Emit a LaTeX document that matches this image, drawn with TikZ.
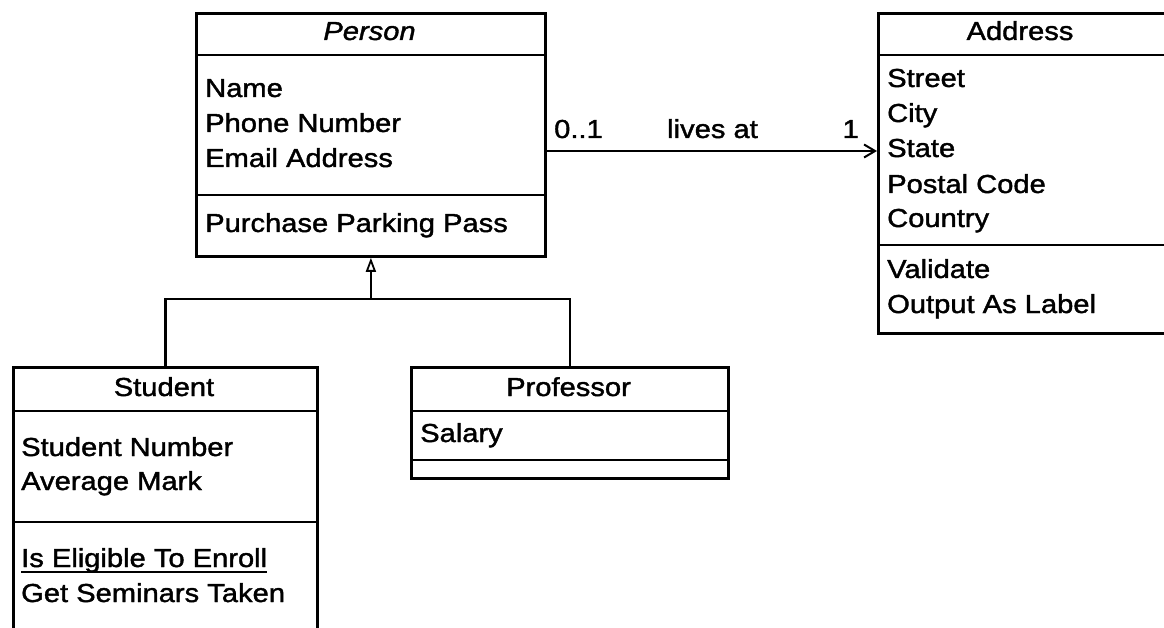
\documentclass[tikz,border=0pt]{standalone}
\usepackage{fontspec}
\setmainfont[FakeStretch=1.12,FakeBold=1.5]{Liberation Sans}
\usetikzlibrary{arrows.meta}
\begin{document}
\begin{tikzpicture}[x=1pt,y=-1pt,
  box/.style={draw=black,line width=2.8pt,anchor=north west,inner sep=0pt,minimum width=#1},
  sep/.style={line width=2.8pt},
  txt/.style={anchor=base west,inner sep=0pt,font=\fontsize{26}{35}\selectfont},
  ttl/.style={anchor=base,inner sep=0pt,font=\fontsize{26}{35}\selectfont},
  conn/.style={line width=2.6pt}]
\useasboundingbox (0,0) rectangle (1164,628);
\fill[white] (0,0) rectangle (1164,628);
\clip (0,0) rectangle (1164,628);

% Person
\node[box=349pt,minimum height=243pt] (person) at (195,12) {};
\draw[sep] (195,55) -- (544,55);
\draw[sep] (195,195) -- (544,195);
\node[ttl,font=\fontsize{26}{35}\selectfont\itshape] (persont) at (369.5,40) {Person};
\node[txt] (pname) at (205,97) {Name};
\node[txt] (pphone) at (205,132) {Phone Number};
\node[txt] (pemail) at (205,167) {Email Address};
\node[txt] (ppark) at (205,232) {Purchase Parking Pass};

% Address
\node[box=300pt,minimum height=320pt] (address) at (877,12) {};
\draw[sep] (877,55) -- (1180,55);
\draw[sep] (877,245) -- (1180,245);
\node[ttl] (addresst) at (1020,40) {Address};
\node[txt] (astreet) at (887,87) {Street};
\node[txt] (acity) at (887,122) {City};
\node[txt] (astate) at (887,157) {State};
\node[txt] (apostal) at (887,193) {Postal Code};
\node[txt] (acountry) at (887,227) {Country};
\node[txt] (avalid) at (887,278) {Validate};
\node[txt] (aoutput) at (887,313) {Output As Label};

% Student
\node[box=304pt,minimum height=290pt] (student) at (12,366) {};
\draw[sep] (12,411) -- (316,411);
\draw[sep] (12,522) -- (316,522);
\node[ttl] (studentt) at (164,396) {Student};
\node[txt] (snum) at (21,456) {Student Number};
\node[txt] (smark) at (21,490) {Average Mark};
\node[txt] (selig) at (21,567) {Is Eligible To Enroll};
\draw[line width=1.6pt] ([yshift=-5pt]selig.base west) -- ([yshift=-5pt]selig.base east);
\node[txt] (ssem) at (21,602) {Get Seminars Taken};

% Professor
\node[box=317pt,minimum height=111pt] (professor) at (410,366) {};
\draw[sep] (410,411) -- (727,411);
\draw[sep] (410,460) -- (727,460);
\node[ttl] (professort) at (568.5,396) {Professor};
\node[txt] (psal) at (420,442) {Salary};

% Generalization
\coordinate (jn) at (person.south |- 0,299);
\draw[conn,line join=miter] (student.north) |- (jn) -| (professor.north);
\draw[conn,-{Triangle[open,length=14pt,width=10pt,line width=1.8pt]}] (jn) -- (person.south);

% Association
\coordinate (assocy) at (0,151);
\draw[conn,-{Straight Barb[length=11pt,width=13pt,line width=2pt]}] (person.east |- assocy) -- (address.west |- assocy);
\node[txt] (m1) at (554,138) {0..1};
\node[txt] (lives) at (667,138) {lives at};
\node[anchor=base east,inner sep=0pt,font=\fontsize{26}{35}\selectfont] (m2) at (859,138) {1};
\end{tikzpicture}
\end{document}
